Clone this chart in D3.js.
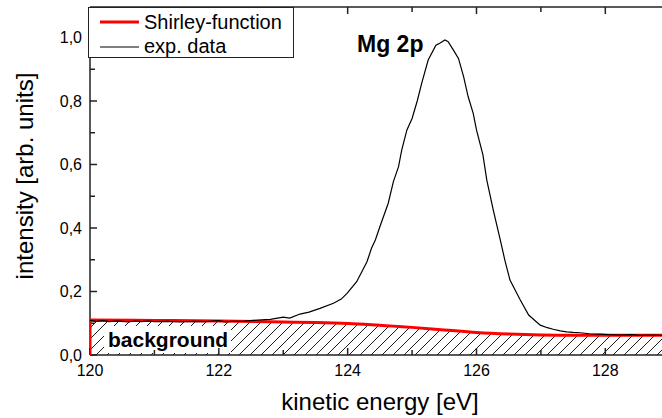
<!DOCTYPE html>
<html>
<head>
<meta charset="utf-8">
<script src="https://cdn.jsdelivr.net/npm/d3@7"></script>
<style>
  body { margin: 0; background: #fff; }
  svg { display: block; font-family: "Liberation Sans", Arial, sans-serif; }
</style>
</head>
<body>
<div id="chart"></div>
<script>
// experimental Mg 2p spectrum
const energy = [120.0, 120.1, 120.2, 120.3, 120.4, 120.5, 120.6, 120.7, 120.8, 120.9,
  121.0, 121.2, 121.4, 121.6, 121.8, 122.0, 122.1, 122.2, 122.4, 122.6, 122.8,
  123.0, 123.1, 123.26, 123.4, 123.57, 123.78, 123.9, 123.99, 124.14, 124.3, 124.37,
  124.43, 124.5, 124.63, 124.71, 124.79, 124.84, 124.92, 125.0, 125.08, 125.15,
  125.25, 125.37, 125.43, 125.51, 125.56, 125.64, 125.72, 125.8, 125.87, 125.95,
  126.0, 126.1, 126.16, 126.26, 126.37, 126.44, 126.52, 126.68, 126.81, 126.99,
  127.1, 127.19, 127.3, 127.4, 127.5, 127.61, 127.75, 127.92, 128.05, 128.23,
  128.4, 128.55, 128.7, 128.88];
const intensity = [0.109, 0.106, 0.108, 0.105, 0.107, 0.106, 0.104, 0.107, 0.105, 0.107,
  0.105, 0.106, 0.104, 0.106, 0.105, 0.108, 0.104, 0.106, 0.107, 0.110, 0.112,
  0.119, 0.116, 0.129, 0.135, 0.147, 0.163, 0.176, 0.194, 0.231, 0.294, 0.336,
  0.362, 0.404, 0.478, 0.546, 0.593, 0.646, 0.709, 0.745, 0.800, 0.856,
  0.929, 0.976, 0.982, 0.992, 0.987, 0.961, 0.934, 0.877, 0.814, 0.76,
  0.709, 0.63, 0.551, 0.457, 0.362, 0.299, 0.236, 0.173, 0.126, 0.094,
  0.086, 0.081, 0.076, 0.073, 0.071, 0.070, 0.067, 0.066, 0.064, 0.063,
  0.064, 0.062, 0.063, 0.062];

// Shirley background
const shirleyE = [120.0, 120.0, 121.0, 122.0, 123.0, 123.5, 124.0, 124.5, 125.0, 125.5,
  126.0, 126.5, 127.0, 127.5, 128.0, 128.88];
const shirleyI = [0.0, 0.110, 0.109, 0.107, 0.104, 0.102, 0.099, 0.094, 0.087, 0.079,
  0.071, 0.066, 0.063, 0.062, 0.062, 0.062];

const xMajor = [120, 122, 124, 126, 128];
const xMinor = [121, 123, 125, 127];
const yMajor = [0, 0.2, 0.4, 0.6, 0.8, 1.0];
const yMinor = [0.1, 0.3, 0.5, 0.7, 0.9];

const W = 662, H = 418;
const margin = { top: 7, right: 0, bottom: 63, left: 90 };

const svg = d3.select("#chart").append("svg")
  .attr("width", W)
  .attr("height", H);

let x = d3.scaleLinear().domain([120, 128.88]).range([margin.left, W - margin.right]);
let y = d3.scaleLinear().domain([0, 1.096]).range([H - margin.bottom, margin.top]);

const defs = svg.append("defs");
const pat = defs.append("pattern")
  .attr("id", "hatch")
  .attr("patternUnits", "userSpaceOnUse")
  .attr("width", 11)
  .attr("height", 11);
pat.append("path")
  .attr("d", "M-1,12 L12,-1 M-2,2 L2,-2 M9,13 L13,9")
  .attr("stroke", "#000")
  .attr("stroke-width", 0.9);

defs.append("clipPath").attr("id", "clip")
  .append("rect")
  .attr("x", margin.left).attr("y", margin.top)
  .attr("width", W - margin.left).attr("height", H - margin.top - margin.bottom);

const shirley = shirleyE.map((e, i) => ({ e: e, v: shirleyI[i] }));
const expData = energy.map((e, i) => ({ e: e, v: intensity[i] }));

// hatched area under background
let area = d3.area()
  .x(d => x(d.e))
  .y0(y(0))
  .y1(d => y(d.v))
  .curve(d3.curveMonotoneX);

svg.append("path")
  .datum(shirley.slice(1))
  .attr("d", area)
  .attr("fill", "url(#hatch)")
  .attr("clip-path", "url(#clip)");

// label box
svg.append("rect")
  .attr("x", 104).attr("y", 326)
  .attr("width", 127).attr("height", 27)
  .attr("fill", "#fff");
svg.append("text")
  .attr("x", 108).attr("y", 347)
  .attr("font-size", 21).attr("font-weight", "bold")
  .text("background");

// axes
const axG = svg.append("g").attr("stroke", "#222").attr("stroke-width", 1.5);
axG.append("line").attr("x1", margin.left).attr("x2", W).attr("y1", y(0)).attr("y2", y(0));
axG.append("line").attr("x1", margin.left).attr("x2", W).attr("y1", margin.top).attr("y2", margin.top);
axG.append("line").attr("x1", margin.left).attr("x2", margin.left).attr("y1", margin.top).attr("y2", y(0));

xMajor.concat(xMinor).forEach(t => {
  const len = xMajor.includes(t) ? 7 : 5;
  axG.append("line").attr("x1", x(t)).attr("x2", x(t)).attr("y1", y(0)).attr("y2", y(0) - len);
  axG.append("line").attr("x1", x(t)).attr("x2", x(t)).attr("y1", margin.top).attr("y2", margin.top + len);
});
yMajor.concat(yMinor).forEach(t => {
  const len = yMajor.includes(t) ? 7 : 5;
  axG.append("line").attr("x1", margin.left).attr("x2", margin.left + len).attr("y1", y(t)).attr("y2", y(t));
});

svg.append("g").selectAll("text").data(xMajor).enter().append("text")
  .attr("x", d => x(d)).attr("y", 376)
  .attr("text-anchor", "middle").attr("font-size", 16)
  .text(d => d);

svg.append("g").selectAll("text").data(yMajor).enter().append("text")
  .attr("x", 82).attr("y", d => y(d) + 6)
  .attr("text-anchor", "end").attr("font-size", 16)
  .text(d => d.toFixed(1).replace(".", ","));

svg.append("text")
  .attr("x", 380).attr("y", 410)
  .attr("text-anchor", "middle").attr("font-size", 24)
  .text("kinetic energy [eV]");

svg.append("text")
  .attr("transform", "translate(33,176) rotate(-90)")
  .attr("text-anchor", "middle").attr("font-size", 24)
  .text("intensity [arb. units]");

// lines
let shirleyLine = d3.line().x(d => x(d.e)).y(d => y(d.v)).curve(d3.curveMonotoneX);
let expLine = d3.line().x(d => x(d.e)).y(d => y(d.v));

svg.append("path")
  .datum(shirley)
  .attr("d", shirleyLine)
  .attr("fill", "none")
  .attr("stroke", "#ff0000")
  .attr("stroke-width", 3)
  .attr("clip-path", "url(#clip)");

svg.append("path")
  .datum(expData)
  .attr("d", expLine)
  .attr("fill", "none")
  .attr("stroke", "#000")
  .attr("stroke-width", 1.2)
  .attr("clip-path", "url(#clip)");

svg.append("text")
  .attr("x", 357).attr("y", 52)
  .attr("font-size", 23).attr("font-weight", "bold")
  .text("Mg 2p");

// legend
const lg = svg.append("g");
lg.append("rect")
  .attr("x", 88.5).attr("y", 7.5)
  .attr("width", 205).attr("height", 50)
  .attr("fill", "#fff").attr("stroke", "#222").attr("stroke-width", 1);
lg.append("line").attr("x1", 100).attr("x2", 139).attr("y1", 22).attr("y2", 22)
  .attr("stroke", "#ff0000").attr("stroke-width", 3);
lg.append("line").attr("x1", 100).attr("x2", 139).attr("y1", 47).attr("y2", 47)
  .attr("stroke", "#000").attr("stroke-width", 1.2);
lg.append("text").attr("x", 144).attr("y", 29).attr("font-size", 20).text("Shirley-function");
lg.append("text").attr("x", 144).attr("y", 53).attr("font-size", 20).text("exp. data");
</script>
</body>
</html>
